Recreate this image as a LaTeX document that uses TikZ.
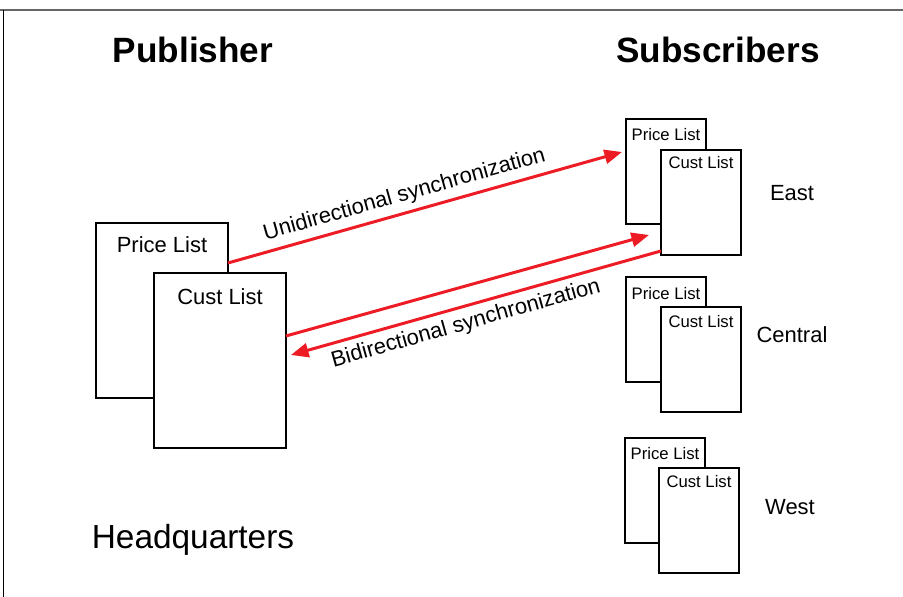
\documentclass[tikz,border=0pt]{standalone}
\usepackage{fontspec}
\setmainfont{Liberation Sans}
\usetikzlibrary{arrows.meta}

\definecolor{syncred}{RGB}{237,28,36}
\definecolor{framegray}{RGB}{102,102,102}

\tikzset{
  bigbox/.style={draw, fill=white, line width=1.1pt, anchor=north west,
    minimum width=2.64cm, minimum height=3.5cm, inner sep=0pt, outer sep=0pt},
  smallbox/.style={bigbox, minimum width=1.6cm, minimum height=2.1cm},
  bigtext/.style={font=\fontsize{12.5}{15}\selectfont},
  smalltext/.style={font=\fontsize{9.5}{11}\selectfont},
  region/.style={font=\fontsize{12.5}{15}\selectfont},
  head/.style={font=\fontsize{20}{24}\selectfont\bfseries},
  place/.style={font=\fontsize{19}{23}\selectfont},
  sync/.style={draw=syncred, line width=1.7pt, -{Triangle[length=10pt,width=8pt]}},
}

\begin{document}
\begin{tikzpicture}[x=0.02cm,y=-0.02cm]
            \useasboundingbox (0,0) rectangle (903,597);
            \draw[framegray, line width=1.1pt] (0,10) -- (903,10);
            \draw[line width=0.5pt] (3,10) -- (3,597);

            \node[head] (pubhead) at (193,50) {Publisher};
            \node[head] (subhead) at (718,50) {Subscribers};
            \node[place] (hq) at (193,540) {Headquarters};

            \node[bigbox] (pubprice) at (96,223) {};
            \node[bigtext] (pubpricetext) at (162,245) {Price List};
            \node[bigbox] (pubcust) at (154,273) {};
            \node[bigtext] (pubcusttext) at (220,297) {Cust List};

            \node[smallbox] (eastprice) at (626,119) {};
            \node[smalltext] (eastpricetext) at (666,135) {Price List};
            \node[smallbox] (eastcust) at (661,150) {};
            \node[smalltext] (eastcusttext) at (701,163) {Cust List};
            \node[region] (east) at (792,193) {East};

            \node[smallbox] (centralprice) at (626,277) {};
            \node[smalltext] (centralpricetext) at (666,294) {Price List};
            \node[smallbox] (centralcust) at (661,307) {};
            \node[smalltext] (centralcusttext) at (701,322) {Cust List};
            \node[region] (central) at (792,335) {Central};

            \node[smallbox] (westprice) at (625,438) {};
            \node[smalltext] (westpricetext) at (665,454) {Price List};
            \node[smallbox] (westcust) at (659,468) {};
            \node[smalltext] (westcusttext) at (699,482) {Cust List};
            \node[region] (west) at (790,507) {West};

            \draw[sync] ([yshift=0.95cm]pubprice.east) --
                node[pos=0.46, sloped, above, bigtext] (unilabel) {Unidirectional synchronization}
                ([xshift=-0.08cm,yshift=0.39cm]eastprice.west);
            \draw[sync] ([yshift=0.49cm]pubcust.east) -- ([xshift=-0.24cm,yshift=-0.65cm]eastcust.west);
            \draw[sync] ([yshift=-0.97cm]eastcust.west) --
                node[pos=0.54, sloped, below, bigtext] (bilabel) {Bidirectional synchronization}
                ([xshift=0.1cm,yshift=0.11cm]pubcust.east);
        \end{tikzpicture}
\end{document}
